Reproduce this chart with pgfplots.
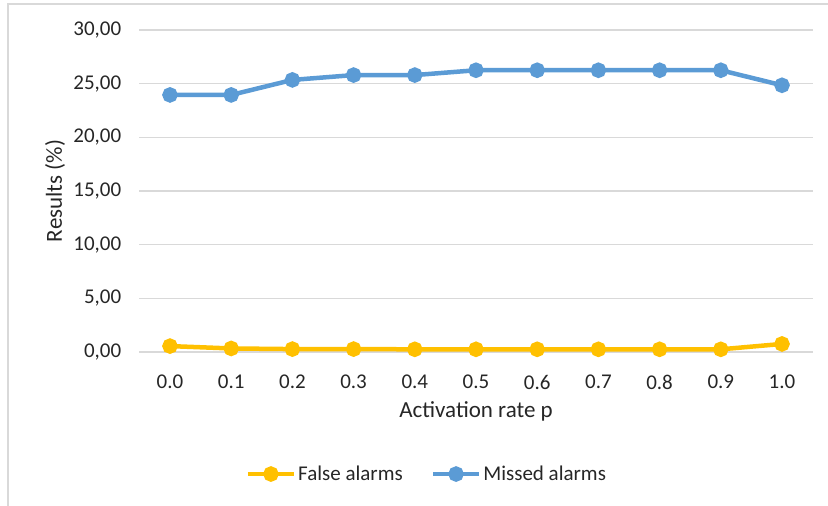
\documentclass[border=0pt]{standalone}
\usepackage{fontspec}
\setmainfont{Carlito}
\usepackage{pgfplots}
\pgfplotsset{compat=1.18}
\definecolor{xlblue}{HTML}{5B9BD5}
\definecolor{xlgold}{HTML}{FFC000}
\definecolor{xlgrid}{HTML}{D9D9D9}
\begin{document}
\begin{tikzpicture}
\useasboundingbox (0,0) rectangle (828pt,506pt);
\draw[xlgrid, line width=1.2pt] (8pt,-20pt) -- (8pt,502pt) -- (860pt,502pt);
\begin{axis}[
    at={(139.4pt,154pt)}, anchor=south west,
    scale only axis, width=673.2pt, height=322pt,
    xmin=-0.5, xmax=10.5, ymin=0, ymax=30,
    xtick={0,...,10},
    xticklabels={0.0,0.1,0.2,0.3,0.4,0.5,0.6,0.7,0.8,0.9,1.0},
    ytick={0,5,...,30},
    yticklabel={\pgfmathprintnumber[fixed,fixed zerofill,precision=2,use comma]{\tick}},
    /pgf/number format/assume math mode=true,
    major tick length=0pt,
    axis line style={draw=none},
    ymajorgrids, grid style={xlgrid, line width=1.3pt},
    tick label style={font=\fontsize{21}{24}\selectfont, text=black!85, inner sep=0pt},
    xticklabel style={anchor=center, yshift=-30pt},
    yticklabel style={anchor=east, xshift=-18pt},
    xlabel={Activation rate p},
    ylabel={Results (\%)},
    label style={font=\fontsize{23}{26}\selectfont, text=black!85},
    xlabel style={at={(axis description cs:0.5,-0.186)}, anchor=center},
    ylabel style={at={(axis description cs:-0.1254,0.5)}, anchor=center},
    clip=false,
    legend style={at={(axis description cs:0.427,-0.379)}, anchor=center,
        draw=none, fill=none, font=\fontsize{21}{24}\selectfont,
        legend columns=2, text=black!85,
        /tikz/every even column/.append style={column sep=26pt}},
    legend image code/.code={\draw[#1, mark repeat=2, mark phase=2] plot coordinates {(0pt,0pt) (23pt,0pt) (46pt,0pt)};},
    every axis plot/.append style={line width=4.5pt, mark=*, mark size=5.5pt, mark options={line width=0pt}},
]
\addplot[xlgold, mark options={fill=xlgold, draw=xlgold}] coordinates {
    (0,0.55) (1,0.33) (2,0.27) (3,0.27) (4,0.25) (5,0.25)
    (6,0.25) (7,0.25) (8,0.25) (9,0.25) (10,0.75)};
\addlegendentry{False alarms}
\addplot[xlblue, mark options={fill=xlblue, draw=xlblue}] coordinates {
    (0,23.95) (1,23.95) (2,25.35) (3,25.8) (4,25.8) (5,26.25)
    (6,26.25) (7,26.25) (8,26.25) (9,26.25) (10,24.85)};
\addlegendentry{Missed alarms}
\end{axis}
\end{tikzpicture}
\end{document}
